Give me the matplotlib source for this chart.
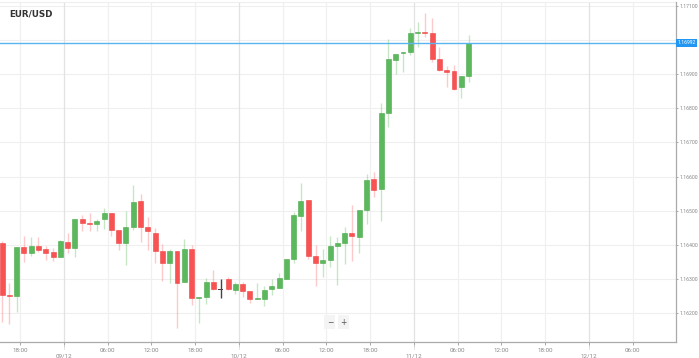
import numpy as np
import matplotlib.pyplot as plt
from matplotlib.transforms import blended_transform_factory

# hourly EUR/USD candles, first one starts 08/12 15:00
opens = [1.16406, 1.16254, 1.16251, 1.16394, 1.16376, 1.16397, 1.16388, 1.16379, 1.16365, 1.16409,
         1.16391, 1.16476, 1.16464, 1.16461, 1.16476, 1.16493, 1.16444, 1.16406, 1.16453, 1.16529,
         1.16453, 1.16435, 1.16382, 1.16347, 1.16382, 1.16292, 1.16388, 1.16245, 1.16248, 1.16292,
         1.16271, 1.16300, 1.16268, 1.16286, 1.16265, 1.16242, 1.16242, 1.16271, 1.16274, 1.16300,
         1.16359, 1.16485, 1.16531, 1.16368, 1.16347, 1.16356, 1.16397, 1.16406, 1.16435, 1.16423,
         1.16502, 1.16593, 1.16564, 1.16786, 1.16941, 1.16961, 1.16964, 1.17020, 1.17023, 1.17020,
         1.16944, 1.16912, 1.16909, 1.16862, 1.16894]
highs = [1.16412, 1.16289, 1.16394, 1.16426, 1.16423, 1.16423, 1.16397, 1.16391, 1.16415, 1.16435,
         1.16476, 1.16488, 1.16493, 1.16476, 1.16508, 1.16493, 1.16444, 1.16499, 1.16575, 1.16549,
         1.16482, 1.16450, 1.16403, 1.16388, 1.16382, 1.16417, 1.16400, 1.16248, 1.16303, 1.16327,
         1.16300, 1.16306, 1.16292, 1.16292, 1.16265, 1.16289, 1.16280, 1.16300, 1.16318, 1.16359,
         1.16496, 1.16581, 1.16531, 1.16400, 1.16388, 1.16426, 1.16423, 1.16453, 1.16517, 1.16502,
         1.16608, 1.16613, 1.16815, 1.17002, 1.16959, 1.16964, 1.17035, 1.17052, 1.17078, 1.17064,
         1.16979, 1.16923, 1.16926, 1.16894, 1.17014]
lows = [1.16175, 1.16169, 1.16204, 1.16350, 1.16368, 1.16379, 1.16356, 1.16353, 1.16365, 1.16376,
        1.16365, 1.16441, 1.16441, 1.16441, 1.16447, 1.16426, 1.16385, 1.16341, 1.16444, 1.16409,
        1.16385, 1.16347, 1.16295, 1.16289, 1.16157, 1.16292, 1.16224, 1.16172, 1.16227, 1.16268,
        1.16245, 1.16268, 1.16257, 1.16248, 1.16230, 1.16242, 1.16221, 1.16254, 1.16274, 1.16300,
        1.16347, 1.16441, 1.16359, 1.16280, 1.16306, 1.16336, 1.16283, 1.16344, 1.16353, 1.16376,
        1.16461, 1.16540, 1.16470, 1.16745, 1.16900, 1.16906, 1.16956, 1.16979, 1.17008, 1.16935,
        1.16909, 1.16862, 1.16853, 1.16830, 1.16877]
closes = [1.16254, 1.16251, 1.16394, 1.16376, 1.16397, 1.16385, 1.16376, 1.16365, 1.16412, 1.16391,
          1.16476, 1.16464, 1.16461, 1.16470, 1.16493, 1.16444, 1.16406, 1.16453, 1.16526, 1.16453,
          1.16441, 1.16382, 1.16347, 1.16382, 1.16289, 1.16388, 1.16245, 1.16248, 1.16292, 1.16271,
          1.16271, 1.16271, 1.16286, 1.16265, 1.16242, 1.16245, 1.16268, 1.16280, 1.16303, 1.16359,
          1.16488, 1.16529, 1.16368, 1.16347, 1.16356, 1.16397, 1.16406, 1.16435, 1.16426, 1.16502,
          1.16590, 1.16561, 1.16786, 1.16944, 1.16959, 1.16964, 1.17020, 1.17023, 1.17020, 1.16944,
          1.16912, 1.16906, 1.16856, 1.16894, 1.16992]
first_hour = -9          # hours relative to 09/12 00:00
last_price = 1.16992

price_ticks = [1.162, 1.163, 1.164, 1.165, 1.166, 1.167, 1.168, 1.169, 1.170, 1.171]
time_ticks = [-6, 0, 6, 12, 18, 24, 30, 36, 42, 48, 54, 60, 66, 72, 78]
time_labels = ['18:00', '09/12', '06:00', '12:00', '18:00', '10/12', '06:00', '12:00',
               '18:00', '11/12', '06:00', '12:00', '18:00', '12/12', '06:00']

green = '#5cb85c'
red = '#f85252'

o = np.array(opens)
h = np.array(highs)
l = np.array(lows)
c = np.array(closes)
t = first_hour + 0.5 + np.arange(len(o))

fig = plt.figure(figsize=(6.99, 3.58), dpi=100)
ax = fig.add_axes([0, 16 / 358, 676 / 699, 340 / 358])

up = c > o
down = c < o
flat = c == o

# grid
for p in price_ticks:
    ax.axhline(p, color='#efefef', lw=0.8, zorder=0)
for x, lab in zip(time_ticks, time_labels):
    col = '#e2e2e2' if '/' in lab else '#f0f0f0'
    ax.axvline(x, color=col, lw=0.9, zorder=0)

# wicks
ax.vlines(t[up], l[up], h[up], color=green, alpha=0.35, lw=1.0, zorder=1)
ax.vlines(t[down], l[down], h[down], color=red, alpha=0.3, lw=1.0, zorder=1)
ax.vlines(t[flat], l[flat], h[flat], color='#444444', lw=1.0, zorder=1)

# bodies
mh = 0.00003
ax.bar(t[up], np.maximum(c[up] - o[up], mh), bottom=o[up], width=0.68,
       color=green, edgecolor='#4aa84a', lw=0.4, zorder=2)
ax.bar(t[down], np.maximum(o[down] - c[down], mh), bottom=c[down], width=0.68,
       color=red, edgecolor='#ee4444', lw=0.4, zorder=2)
ax.bar(t[flat], mh, bottom=o[flat] - mh / 2, width=0.68, color='#444444', zorder=2)

# last price line
ax.axhline(last_price, color='#5ab4f0', lw=1.0, zorder=3)
ax.text(1.002, last_price, f'{last_price:.5f}', transform=ax.get_yaxis_transform(),
        ha='left', va='center', fontsize=3.7, family='Roboto', color='white',
        clip_on=False, zorder=5,
        bbox=dict(boxstyle='square,pad=0.3', fc='#2196f3', ec='none'))

ax.set_xlim(-8.78, 83.95)
ax.set_ylim(1.16116, 1.17111)

ax.yaxis.tick_right()
ax.set_yticks(price_ticks)
# the 1.17000 label sits under the last-price box
ax.set_yticklabels(['' if abs(p - 1.170) < 1e-9 else f'{p:.5f}' for p in price_ticks],
                   family='Roboto')
ax.tick_params(axis='y', length=1.5, width=0.6, color='#999999', labelsize=3.7,
               labelcolor='#888888', pad=1.0)

ax.set_xticks(time_ticks)
ax.set_xticklabels(['\n' + s if '/' in s else s for s in time_labels], linespacing=1.15,
                   family='Roboto')
ax.tick_params(axis='x', length=2, width=0.6, color='#999999', labelsize=4.5,
               labelcolor='#888888', pad=2)

# dotted day markers under the axis
trans = blended_transform_factory(ax.transData, ax.transAxes)
for x, lab in zip(time_ticks, time_labels):
    if '/' in lab:
        ax.plot([x, x], [0, -0.022], transform=trans, color='#aaaaaa', lw=0.6,
                ls=(0, (1, 1)), clip_on=False)

for side in ['left', 'top']:
    ax.spines[side].set_visible(False)
for side in ['right', 'bottom']:
    ax.spines[side].set_color('#aaaaaa')
    ax.spines[side].set_linewidth(0.9)
ax.axhline(1.17111, color='#eeeeee', lw=1.5, zorder=0)

ax.text(0.013, 0.966, 'EUR/USD', transform=ax.transAxes, fontsize=6.3,
        fontweight='bold', color='#333333', ha='left', va='center')

# zoom buttons
ax.text(0.488, 0.058, '\u2212', transform=ax.transAxes, fontsize=5.5, color='#555555',
        ha='center', va='center', bbox=dict(boxstyle='square,pad=0.3', fc='#f4f4f4', ec='none'))
ax.text(0.508, 0.058, '+', transform=ax.transAxes, fontsize=5.5, color='#555555',
        ha='center', va='center', bbox=dict(boxstyle='square,pad=0.3', fc='#f4f4f4', ec='none'))

fig.savefig('out.png', dpi=100, facecolor='white')
